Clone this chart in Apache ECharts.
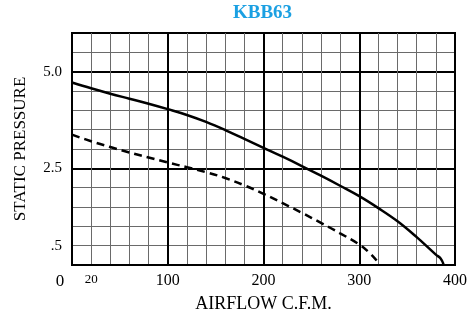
<!DOCTYPE html>
<html>
<head>
<meta charset="utf-8">
<script src="https://cdn.jsdelivr.net/npm/echarts@6/dist/echarts.min.js"></script>
<style>
  html, body { margin: 0; padding: 0; background: #fff; }
  #chart { width: 470px; height: 318px; }
</style>
</head>
<body>
<div id="chart"></div>
<script>
// solid curve (upper)
const solidFlow = [0, 20, 40, 60, 80, 100, 120, 140, 160, 180, 200, 220, 240, 260, 280, 300, 320, 340, 360, 380, 385, 388];
const solidPressure = [4.72, 4.57, 4.43, 4.30, 4.17, 4.03, 3.88, 3.70, 3.49, 3.26, 3.03, 2.80, 2.56, 2.31, 2.05, 1.78, 1.47, 1.13, 0.72, 0.27, 0.17, 0.02];
// dashed curve (lower)
const dashedFlow = [0, 20, 40, 60, 80, 100, 120, 140, 160, 180, 200, 220, 240, 260, 280, 300, 310, 319, 321];
const dashedPressure = [3.37, 3.20, 3.05, 2.91, 2.78, 2.65, 2.53, 2.40, 2.25, 2.06, 1.84, 1.60, 1.35, 1.09, 0.82, 0.53, 0.33, 0.09, 0.0];

const xLabelValues = [0, 20, 100, 200, 300, 400];
const yLabelValues = [0.5, 2.5, 5.0];
const yLabelText = ['.5', '2.5', '5.0'];

const serif = '"Liberation Serif", "Times New Roman", serif';

const chart = echarts.init(document.getElementById('chart'), null, { renderer: 'canvas' });

const pairs = (xs, ys) => xs.map((x, i) => [x, ys[i]]);

const option = {
  backgroundColor: '#fff',
  animation: false,
  title: {
    text: 'KBB63',
    left: 233,
    top: 4,
    padding: 0,
    textStyle: { fontFamily: serif, fontWeight: 'bold', fontSize: 19, color: '#1ba0e2' }
  },
  grid: {
    left: 72, right: 12, top: 33, bottom: 52,
    show: true, borderColor: '#000', borderWidth: 2
  },
  xAxis: [
    {
      type: 'value', min: 0, max: 400, interval: 20,
      name: 'AIRFLOW C.F.M.', nameLocation: 'middle', nameGap: 30,
      nameTextStyle: { fontFamily: serif, fontSize: 18, color: '#000' },
      axisLine: { show: true, lineStyle: { color: '#000', width: 2 } },
      axisTick: { show: false },
      splitLine: { show: true, lineStyle: { color: '#6a6a6a', width: 1 } },
      axisLabel: {
        margin: 8,
        fontFamily: serif, fontSize: 16, color: '#000',
        formatter: (v) => {
          if (!xLabelValues.includes(v)) return '';
          if (v === 0) return '{z|0}';
          if (v === 20) return '{s|20}';
          return String(v);
        },
        rich: {
          z: { fontFamily: serif, fontSize: 17, color: '#000', padding: [0, 24, 0, 0] },
          s: { fontFamily: serif, fontSize: 13, color: '#000', padding: [0, 0, 3, 0] }
        }
      }
    },
    {
      type: 'value', min: 0, max: 400, interval: 100, position: 'top',
      axisLine: { show: false }, axisTick: { show: false }, axisLabel: { show: false },
      splitLine: { show: true, lineStyle: { color: '#000', width: 2 } }
    }
  ],
  yAxis: [
    {
      type: 'value', min: 0, max: 6, interval: 0.5,
      name: 'STATIC PRESSURE', nameLocation: 'middle', nameRotate: 90, nameGap: 43,
      nameTextStyle: { fontFamily: serif, fontSize: 17, color: '#000' },
      axisLine: { show: true, lineStyle: { color: '#000', width: 2 } },
      axisTick: { show: false },
      splitLine: { show: true, lineStyle: { color: '#6a6a6a', width: 1 } },
      axisLabel: {
        margin: 10,
        fontFamily: serif, fontSize: 15, color: '#000',
        formatter: (v) => {
          const i = yLabelValues.findIndex((t) => Math.abs(t - v) < 1e-6);
          return i >= 0 ? yLabelText[i] : '';
        }
      }
    },
    {
      type: 'value', min: 0, max: 6, interval: 2.5, position: 'right',
      axisLine: { show: false }, axisTick: { show: false }, axisLabel: { show: false },
      splitLine: { show: true, lineStyle: { color: '#000', width: 2 } }
    }
  ],
  series: [
    {
      type: 'line', xAxisIndex: 0, yAxisIndex: 0,
      data: pairs(solidFlow, solidPressure),
      smooth: 0.4, showSymbol: false,
      lineStyle: { color: '#000', width: 2.5 }
    },
    {
      type: 'line', xAxisIndex: 0, yAxisIndex: 0,
      data: pairs(dashedFlow, dashedPressure),
      smooth: 0.4, showSymbol: false,
      lineStyle: { color: '#000', width: 2.5, type: [8, 5] }
    }
  ]
};

chart.setOption(option);
</script>
</body>
</html>
